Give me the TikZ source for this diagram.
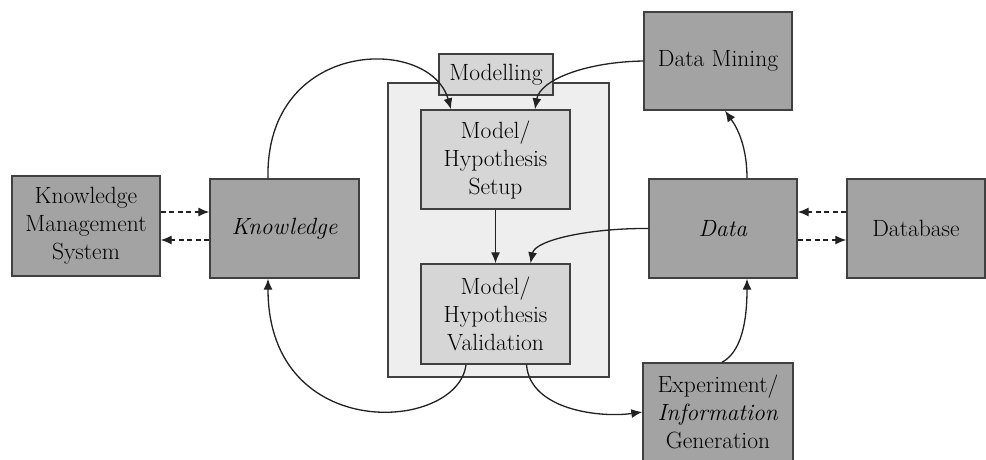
\documentclass[tikz,border=0pt]{standalone}
\usetikzlibrary{arrows.meta}
\definecolor{darkbox}{HTML}{A3A3A3}
\definecolor{midbox}{HTML}{D6D6D6}
\definecolor{lightbox}{HTML}{EEEEEE}
\definecolor{edgecol}{HTML}{404040}
\definecolor{linecol}{HTML}{222222}
\begin{document}
\begin{tikzpicture}[x=1pt,y=-1pt,
  boxbase/.style={draw=edgecol, line width=1.4pt, inner sep=0pt, align=center,
    font=\rmfamily\fontsize{23.5}{28}\selectfont},
  darknode/.style={boxbase, fill=darkbox},
  midnode/.style={boxbase, fill=midbox},
  outernode/.style={draw=edgecol, line width=1.4pt, fill=lightbox, inner sep=0pt},
  conn/.style={draw=linecol, line width=1.3pt, -{Latex[length=11pt,width=9pt]}},
  dconn/.style={conn, dash pattern=on 5pt off 3.5pt}]
\useasboundingbox (0,0) rectangle (986,459);
\fill[white] (0,0) rectangle (986,459);

\node[outernode, minimum width=221pt, minimum height=294pt] (outer) at (498.5,230) {};
\node[midnode, minimum width=149pt, minimum height=99pt] (setup) at (495.5,159.5) {Model/\\Hypothesis\\Setup};
\node[midnode, minimum width=149pt, minimum height=100pt] (valid) at (495.5,314) {Model/\\Hypothesis\\Validation};
\node[midnode, minimum width=114pt, minimum height=41pt] (model) at (496,74.5) {Modelling};

\node[darknode, minimum width=148pt, minimum height=100pt] (kms) at (86,226) {Knowledge\\Management\\System};
\node[darknode, minimum width=149pt, minimum height=99pt] (know) at (284.5,228.5) {\textit{Knowledge}};
\node[darknode, minimum width=148pt, minimum height=99pt] (data) at (723,228.5) {\textit{Data}};
\node[darknode, minimum width=138pt, minimum height=99pt] (db) at (916,228.5) {Database};
\node[darknode, minimum width=148pt, minimum height=98pt] (mining) at (718,61) {Data Mining};
\node[darknode, minimum width=150pt, minimum height=98pt] (exper) at (718,412) {Experiment/\\\textit{Information}\\Generation};

% dashed exchanges
\draw[dconn] ([yshift=14pt]kms.east) -- ([yshift=16.5pt]know.west);
\draw[dconn] ([yshift=-11.5pt]know.west) -- ([yshift=-14pt]kms.east);
\draw[dconn] ([yshift=16.5pt]db.west) -- ([yshift=16.5pt]data.east);
\draw[dconn] ([yshift=-11.5pt]data.east) -- ([yshift=-11.5pt]db.west);

% solid connectors
\draw[conn] (setup) -- (valid);
\draw[conn] ([xshift=-16.5pt]know.north) .. controls (265,38) and (430,35) .. ([xshift=-44.5pt]setup.north);
\draw[conn] (mining.west) .. controls (585,62) and (540,80) .. ([xshift=39.5pt]setup.north);
\draw[conn] (data.west) .. controls (590,228) and (535,240) .. ([xshift=35pt]valid.north);
\draw[conn] ([xshift=24pt]data.north) .. controls (747,140) and (733,122) .. ([xshift=7pt]mining.south);
\draw[conn] ([xshift=-29.5pt]valid.south) .. controls (458,432) and (268,445) .. ([xshift=-16.5pt]know.south);
\draw[conn] ([xshift=31pt]valid.south) .. controls (530,410) and (600,418) .. (exper.west);
\draw[conn] ([xshift=4pt]exper.north) .. controls (745,350) and (747,310) .. ([xshift=24pt]data.south);
\end{tikzpicture}
\end{document}
